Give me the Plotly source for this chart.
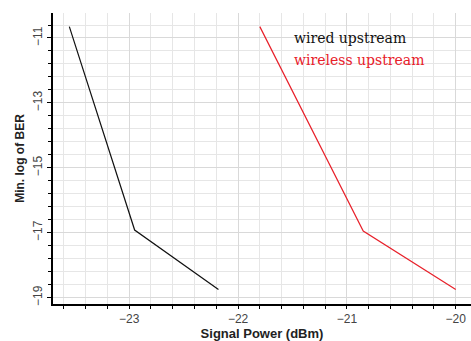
import plotly.graph_objects as go

wired_x = [-23.55, -22.95, -22.18]
wired_y = [-10.65, -16.92, -18.75]
wireless_x = [-21.8, -20.85, -20.0]
wireless_y = [-10.65, -16.95, -18.75]
series_names = ["wired upstream", "wireless upstream"]
series_colors = ["#111111", "#e8202a"]

fig = go.Figure()
fig.add_trace(go.Scatter(x=wired_x, y=wired_y, mode="lines", name=series_names[0],
                         line=dict(color=series_colors[0], width=1.2)))
fig.add_trace(go.Scatter(x=wireless_x, y=wireless_y, mode="lines", name=series_names[1],
                         line=dict(color=series_colors[1], width=1.2)))

for i, (name, col) in enumerate(zip(series_names, series_colors)):
    fig.add_annotation(x=0.572, y=0.914 - i * 0.076, xref="paper", yref="paper",
                       text=name, showarrow=False, xanchor="left", yanchor="middle",
                       font=dict(family="DejaVu Serif, serif", size=14, color=col))

fig.update_layout(
    width=471, height=341,
    margin=dict(l=53, r=0, t=13, b=37),
    paper_bgcolor="white", plot_bgcolor="white",
    showlegend=False,
    font=dict(family="Liberation Sans, Arial, sans-serif", size=12, color="#444444"),
)
fig.update_xaxes(
    range=[-23.7, -19.86], tickvals=[-23, -22, -21, -20],
    automargin=False,
    showline=True, linecolor="black", linewidth=1.5, mirror=False,
    ticks="outside", ticklen=3, tickcolor="black",
    showgrid=True, gridcolor="#d9d9d9", gridwidth=1,
    minor=dict(dtick=0.2, showgrid=True, gridcolor="#e6e6e6", ticks="outside", ticklen=3, tickcolor="black"),
    zeroline=False,
    title=dict(text="<b>Signal Power (dBm)</b>", font=dict(size=13, color="#222222"), standoff=1),
)
fig.update_yaxes(
    range=[-19.2, -10.23], tickvals=[-11, -13, -15, -17, -19], tickangle=-90,
    automargin=False,
    showline=True, linecolor="black", linewidth=1.5,
    ticks="outside", ticklen=4, tickcolor="black",
    showgrid=True, gridcolor="#d9d9d9", gridwidth=1,
    minor=dict(dtick=0.4, tick0=-11, showgrid=True, gridcolor="#e6e6e6", ticks="outside", ticklen=3, tickcolor="black"),
    zeroline=False,
    title=dict(text="<b>Min. log of BER</b>", font=dict(size=12, color="#222222"), standoff=4),
)

fig.write_html("out.html", config={"displayModeBar": False},
               post_script="document.body.style.margin='0';document.body.style.overflow='hidden';")
